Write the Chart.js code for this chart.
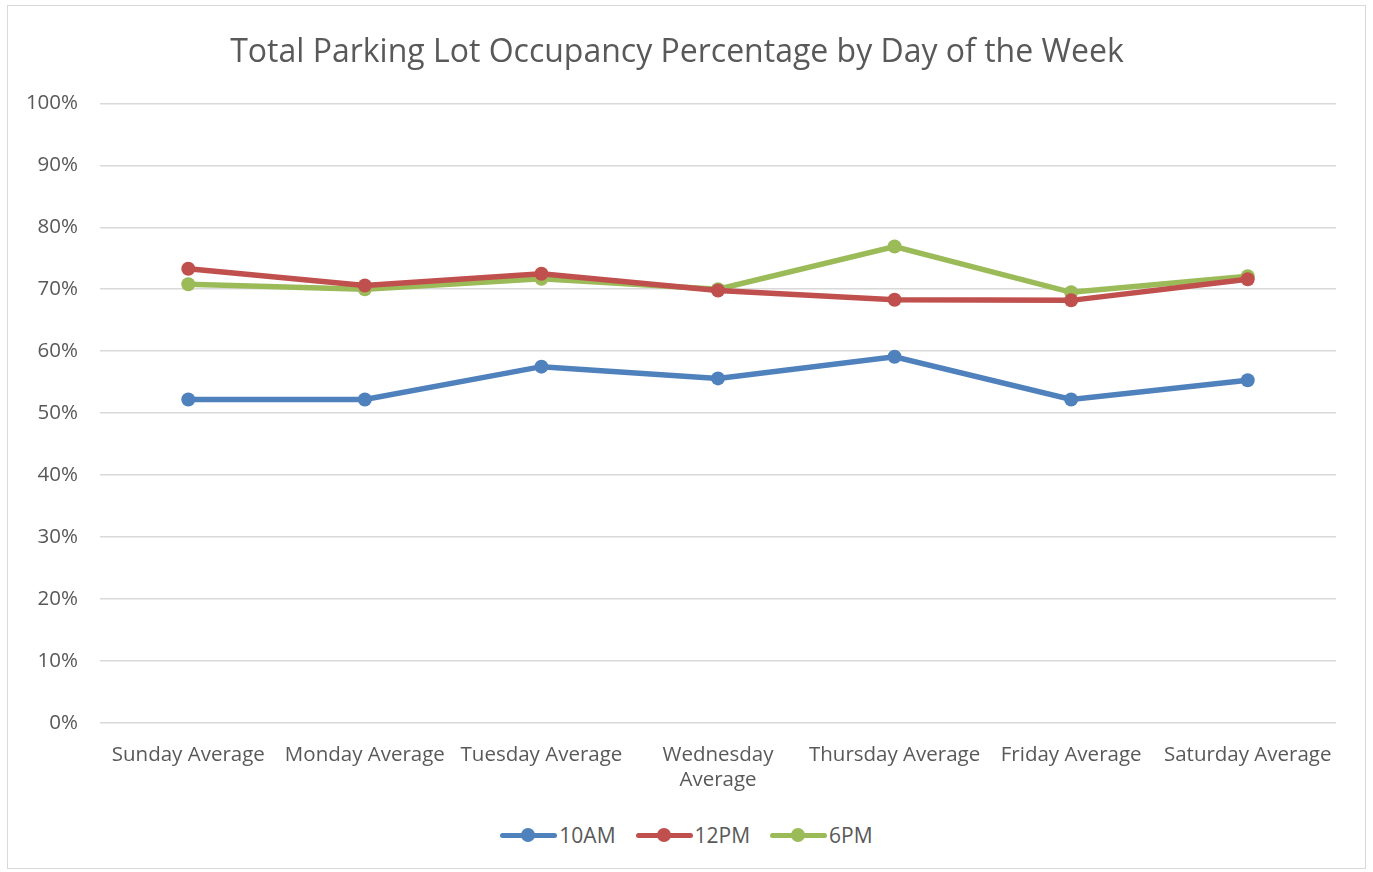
<!DOCTYPE html>
<html>
<head>
<meta charset="utf-8">
<script src="https://cdn.jsdelivr.net/npm/chart.js@4"></script>
<style>
  body { margin: 0; background: #fff; font-family: "Open Sans", sans-serif; }
  #box { position: absolute; left: 7px; top: 5px; width: 1359px; height: 864px; border: 1px solid #d9d9d9; box-sizing: border-box; }
  #wrap { position: absolute; left: 0; top: 0; width: 1357px; height: 806px; }
  #legend { position: absolute; left: 0; top: 815px; width: 1357px; text-align: center; font-size: 21px; color: #595959; }
  .item { display: inline-block; margin: 0 10px; }
  .mark { display: inline-block; position: relative; width: 57px; height: 20px; vertical-align: middle; top: -2px; margin-right: 2px; }
  .mark .ln { position: absolute; left: 0; right: 0; top: 8px; height: 5px; border-radius: 3px; }
  .mark .dot { position: absolute; left: 21px; top: 3px; width: 14px; height: 14px; border-radius: 50%; }
</style>
</head>
<body>
<div id="box">
  <div id="wrap"><canvas id="chart"></canvas></div>
  <div id="legend"></div>
</div>
<script>
var days = ['Sunday Average', 'Monday Average', 'Tuesday Average', ['Wednesday', 'Average'], 'Thursday Average', 'Friday Average', 'Saturday Average'];
var seriesNames = ['10AM', '12PM', '6PM'];
var seriesColors = ['#4f81bd', '#c0504d', '#9bbb59'];
var am10 = [52.2, 52.2, 57.5, 55.6, 59.1, 52.2, 55.3];
var pm12 = [73.3, 70.6, 72.5, 69.8, 68.3, 68.2, 71.6];
var pm6 = [70.8, 70.0, 71.7, 70.0, 76.9, 69.5, 72.1];
var yTicks = [0, 10, 20, 30, 40, 50, 60, 70, 80, 90, 100];

var allData = [am10, pm12, pm6];
var datasets = allData.map(function(d, i) {
    return {
        label: seriesNames[i],
        data: d,
        borderColor: seriesColors[i],
        backgroundColor: seriesColors[i],
        borderWidth: 5.5,
        pointRadius: 7,
        pointHoverRadius: 7,
        pointBorderWidth: 0,
        tension: 0,
        fill: false
    };
});

var ctx = document.getElementById('chart').getContext('2d');
new Chart(ctx, {
    type: 'line',
    data: { labels: days, datasets: datasets },
    options: {
        responsive: true,
        maintainAspectRatio: false,
        animation: false,
        layout: { padding: { left: 10, right: 29, top: 0, bottom: 0 } },
        plugins: {
            legend: { display: false },
            tooltip: { enabled: false },
            title: {
                display: true,
                text: 'Total Parking Lot Occupancy Percentage by Day of the Week',
                color: '#595959',
                font: { family: 'Open Sans', size: 32, weight: 'normal' },
                padding: { top: 28, bottom: 31 }
            }
        },
        scales: {
            x: {
                offset: true,
                border: { display: false },
                grid: { display: false, drawTicks: false },
                ticks: {
                    color: '#595959',
                    font: { family: 'Open Sans', size: 20.5 },
                    autoSkip: false,
                    maxRotation: 0,
                    padding: 20
                }
            },
            y: {
                min: 0,
                max: 100,
                afterBuildTicks: function(scale) {
                    scale.ticks = yTicks.map(function(v) { return { value: v }; });
                },
                afterFit: function(scale) { scale.width = 82; },
                border: { display: false },
                grid: { color: '#d9d9d9', lineWidth: 1.5, drawTicks: false },
                ticks: {
                    color: '#595959',
                    font: { family: 'Open Sans', size: 20.5 },
                    padding: 22,
                    callback: function(v) { return v + '%'; }
                }
            }
        }
    }
});

// legend: line with a dot, like the original
var legend = document.getElementById('legend');
seriesNames.forEach(function(name, i) {
    var item = document.createElement('span');
    item.className = 'item';
    item.innerHTML = '<span class="mark"><span class="ln" style="background:' + seriesColors[i] + '"></span>' +
        '<span class="dot" style="background:' + seriesColors[i] + '"></span></span>' + name;
    legend.appendChild(item);
});
</script>
</body>
</html>
